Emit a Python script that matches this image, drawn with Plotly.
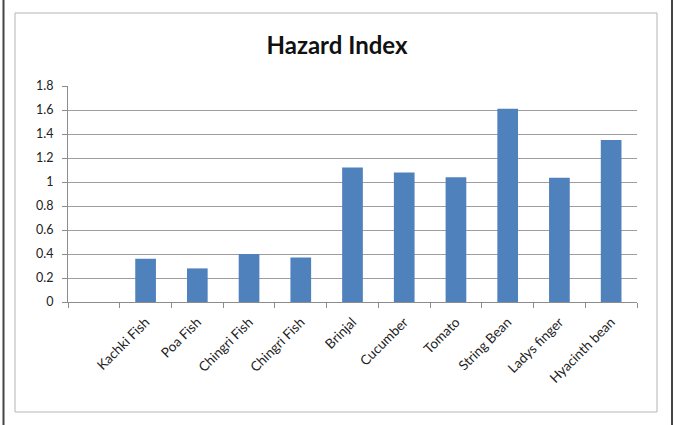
import plotly.graph_objects as go

# Hazard index per food item (first slot on the axis is left empty)
labels = ["", "Kachki Fish", "Poa Fish", "Chingri Fish", "Chingri Fish", "Brinjal",
          "Cucumber", "Tomato", "String Bean", "Ladys finger", "Hyacinth bean"]
hazard_index = [None, 0.36, 0.28, 0.40, 0.37, 1.12, 1.08, 1.04, 1.61, 1.035, 1.35]
y_ticks = [0, 0.2, 0.4, 0.6, 0.8, 1, 1.2, 1.4, 1.6, 1.8]
y_ticktext = ["0", "0.2", "0.4", "0.6", "0.8", "1", "1.2", "1.4", "1.6", "1.8"]

positions = list(range(len(labels)))

W, H = 674, 425
ML, MR, MT, MB = 68, 37, 86, 123
pw, ph = W - ML - MR, H - MT - MB


def px_x(x):
    return (x - ML) / pw


def px_y(y):
    return (H - MB - y) / ph


fig = go.Figure(go.Bar(
    x=positions,
    y=hazard_index,
    marker=dict(color="#4F81BD", line=dict(width=0)),
    width=0.4,
))

fig.update_layout(
    width=W, height=H,
    margin=dict(l=ML, r=MR, t=MT, b=MB),
    paper_bgcolor="white",
    plot_bgcolor="white",
    showlegend=False,
    font=dict(family="Lato", size=12, color="#222"),
    title=dict(
        text="<b>Hazard Index</b>",
        x=0.5, xref="container", xanchor="center",
        y=1 - 46 / H, yref="container", yanchor="middle",
        font=dict(family="Lato", size=24, color="#111"),
    ),
    xaxis=dict(
        range=[-0.5, len(labels) - 0.5],
        tickmode="array",
        tickvals=positions,
        ticktext=labels,
        tickangle=-45,
        ticks="",
        ticklabelstandoff=6,
        showgrid=False,
        showline=True, linecolor="#8C8C8C", linewidth=1,
        minor=dict(tick0=0.5, dtick=1, ticks="outside", ticklen=5,
                   tickcolor="#8C8C8C", showgrid=False),
        tickfont=dict(family="Lato", size=13.5, color="#222"),
        fixedrange=True,
    ),
    yaxis=dict(
        range=[0, 1.8],
        tickmode="array",
        tickvals=y_ticks,
        ticktext=y_ticktext,
        ticks="outside", ticklen=5, tickcolor="#8C8C8C",
        showgrid=True, gridcolor="#9E9E9E", gridwidth=1,
        showline=True, linecolor="#8C8C8C", linewidth=1,
        zeroline=False,
        ticklabelstandoff=6,
        tickfont=dict(family="Lato", size=12.5, color="#222"),
        fixedrange=True,
    ),
    shapes=[
        # light chart-area frame
        dict(type="rect", xref="paper", yref="paper",
             x0=px_x(15), x1=px_x(657), y0=px_y(412), y1=px_y(13),
             line=dict(color="#B5B5B5", width=1), fillcolor="rgba(0,0,0,0)", layer="below"),
        # dark side rules of the outer page frame
        dict(type="line", xref="paper", yref="paper",
             x0=px_x(3.5), x1=px_x(3.5), y0=px_y(H), y1=px_y(0),
             line=dict(color="#444", width=2)),
        dict(type="line", xref="paper", yref="paper",
             x0=px_x(672), x1=px_x(672), y0=px_y(H), y1=px_y(0),
             line=dict(color="#444", width=2)),
    ],
)

fig.write_html("out.html", config={"displayModeBar": False})
